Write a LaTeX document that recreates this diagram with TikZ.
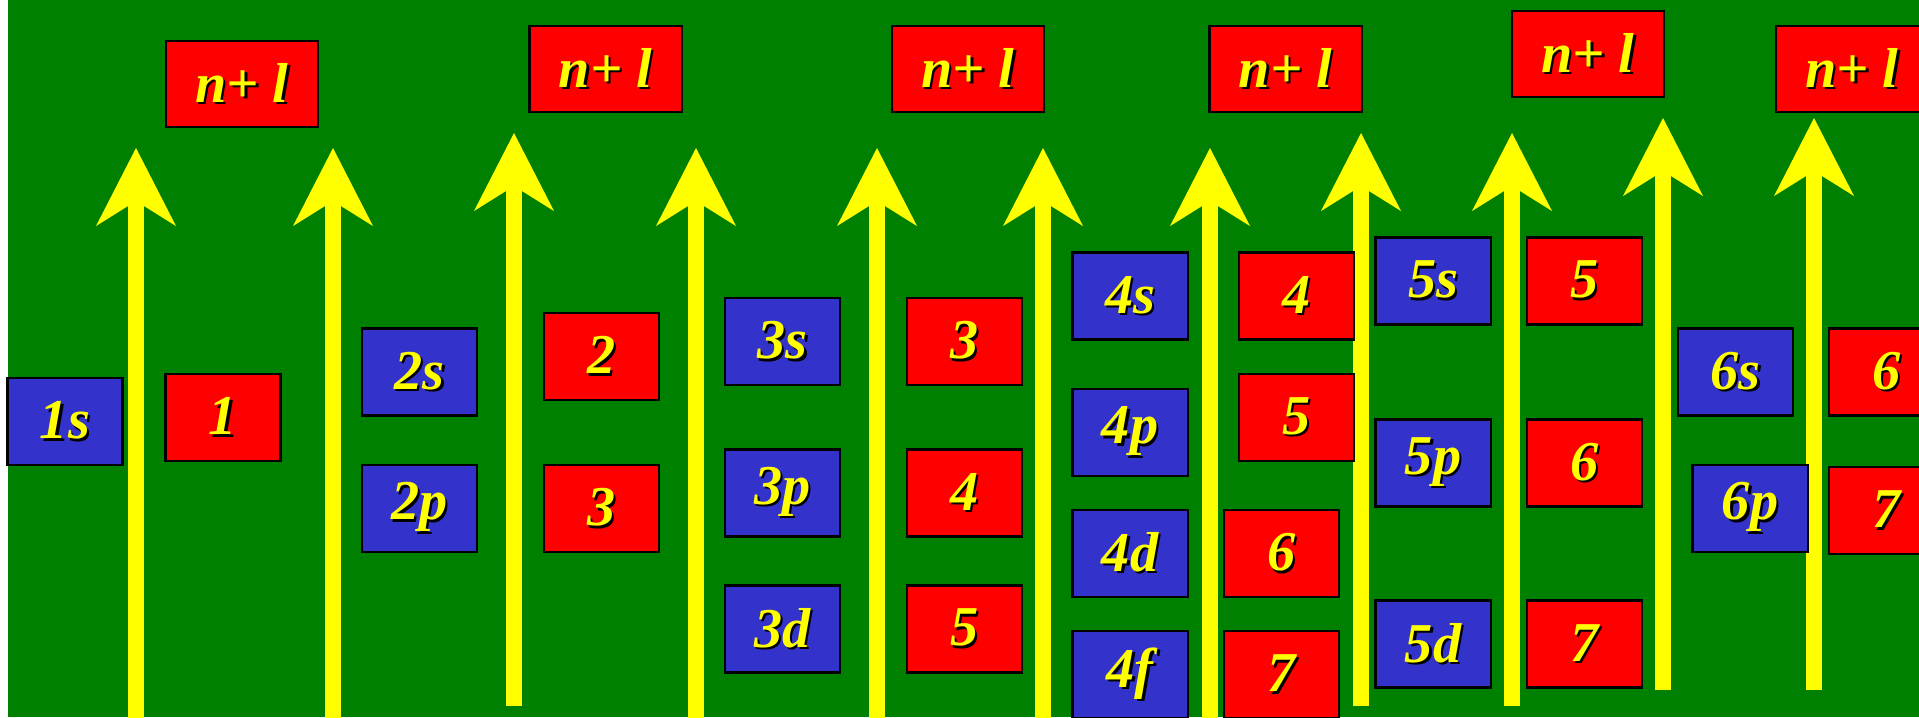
\documentclass[tikz,border=0pt]{standalone}
\usepackage{fontspec}
\setmainfont{Liberation Serif}
\usetikzlibrary{positioning, arrows.meta}
\definecolor{boardgreen}{HTML}{008000}
\definecolor{orbblue}{HTML}{3333CC}
\definecolor{sumred}{HTML}{FF0000}
\definecolor{tipyellow}{HTML}{FFFF00}
\newcommand{\shadowed}[1]{\makebox[0pt][l]{\kern0.7pt\raisebox{-0.7pt}{\color{black}#1}}#1}

\begin{document}
\begin{tikzpicture}[
    x=0.01cm, y=-0.01cm,
    orbital/.style={rectangle, draw=black, line width=0.6pt, fill=orbblue, minimum width=1.15cm, minimum height=0.87cm, inner sep=0pt, text=tipyellow, font=\fontsize{16}{18}\selectfont\bfseries\itshape},
    sum/.style={orbital, fill=sumred},
    header/.style={sum, minimum width=1.52cm, minimum height=0.86cm},
    uparrow/.style={tipyellow, line width=0.16cm, -{Stealth[length=0.78cm, width=0.80cm, inset=0.25cm, line width=0pt]}}
]
    \useasboundingbox (0,0) rectangle (1919,717);
    \fill[white] (0,0) rectangle (1919,717);
    \fill[boardgreen] (8,0) rectangle (1919,717);
    % arrows
    \foreach \x/\t/\b [count=\i] in {136/148/720, 333/148/720, 514/133/706, 696/148/720, 877/148/720, 1043/148/720, 1210/148/720, 1361/133/706, 1512/133/706, 1663/118/690, 1814/118/690} {
        \coordinate (bot\i) at (\x,\b);
        \coordinate (top\i) at (\x,\t);
        \draw[uparrow] (bot\i) -- (top\i);
    }
    % n+l headers
    \node[header] (nl1) at (242,84) {\shadowed{n+ l}};
    \node[header] (nl2) at (605.5,69) {\shadowed{n+ l}};
    \node[header] (nl3) at (968,69) {\shadowed{n+ l}};
    \node[header] (nl4) at (1285.5,69) {\shadowed{n+ l}};
    \node[header] (nl5) at (1588,54) {\shadowed{n+ l}};
    \node[header] (nl6) at (1852,69) {\shadowed{n+ l}};
    % n = 1
    \node[orbital] (o1s) at (65,421.5) {\shadowed{1s}};
    \node[sum] (s1s) at (223,417.5) {\shadowed{1}};
    % n = 2
    \node[orbital] (o2s) at (419.5,372) {\shadowed{2s}};
    \node[orbital] (o2p) at (419.5,508.5) {\shadowed{2p}};
    \node[sum] (s2s) at (601.5,356.5) {\shadowed{2}};
    \node[sum] (s2p) at (601.5,508.5) {\shadowed{3}};
    % n = 3
    \node[orbital] (o3s) at (782.5,341.5) {\shadowed{3s}};
    \node[orbital] (o3p) at (782.5,493) {\shadowed{3p}};
    \node[orbital] (o3d) at (782.5,629) {\shadowed{3d}};
    \node[sum] (s3s) at (964.5,341.5) {\shadowed{3}};
    \node[sum] (s3p) at (964.5,493) {\shadowed{4}};
    \node[sum] (s3d) at (964.5,629) {\shadowed{5}};
    % n = 4
    \node[orbital] (o4s) at (1130,296) {\shadowed{4s}};
    \node[orbital] (o4p) at (1130,432.5) {\shadowed{4p}};
    \node[orbital] (o4d) at (1130,553.5) {\shadowed{4d}};
    \node[orbital] (o4f) at (1130,674.5) {\shadowed{4f}};
    \node[sum] (s4s) at (1296.5,296) {\shadowed{4}};
    \node[sum] (s4p) at (1296.5,417.5) {\shadowed{5}};
    \node[sum] (s4d) at (1281.5,553.5) {\shadowed{6}};
    \node[sum] (s4f) at (1281.5,674.5) {\shadowed{7}};
    % n = 5
    \node[orbital] (o5s) at (1433,281) {\shadowed{5s}};
    \node[orbital] (o5p) at (1433,463) {\shadowed{5p}};
    \node[orbital] (o5d) at (1433,644) {\shadowed{5d}};
    \node[sum] (s5s) at (1584.5,281) {\shadowed{5}};
    \node[sum] (s5p) at (1584.5,463) {\shadowed{6}};
    \node[sum] (s5d) at (1584.5,644) {\shadowed{7}};
    % n = 6
    \node[orbital] (o6s) at (1735.5,372) {\shadowed{6s}};
    \node[orbital] (o6p) at (1750,508.5) {\shadowed{6p}};
    \node[sum] (s6s) at (1886.5,372) {\shadowed{6}};
    \node[sum] (s6p) at (1886.5,510.5) {\shadowed{7}};
\end{tikzpicture}
\end{document}
